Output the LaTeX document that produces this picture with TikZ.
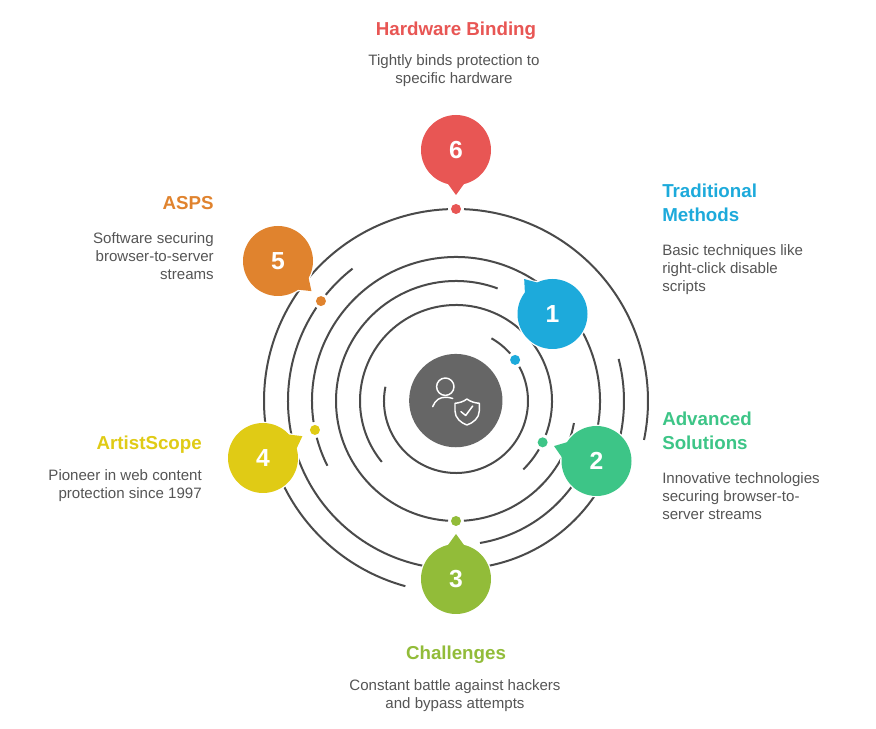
\documentclass[tikz,border=0pt]{standalone}
\usepackage{fontspec}
\setmainfont{Liberation Sans}
\definecolor{cA}{HTML}{1DAADB}
\definecolor{cB}{HTML}{3DC587}
\definecolor{cC}{HTML}{92BC39}
\definecolor{cD}{HTML}{E0CB15}
\definecolor{cE}{HTML}{E0832E}
\definecolor{cF}{HTML}{E85654}
\definecolor{ringc}{HTML}{4A4A4A}
\definecolor{hubc}{HTML}{666666}
\definecolor{bodyc}{HTML}{555555}
\tikzset{
  ringline/.style={draw=ringc,line width=1.5pt},
  bubblenum/.style={circle,minimum size=52.5pt,inner sep=0pt,text=white,font=\fontsize{18.5pt}{22pt}\selectfont\bfseries},
  dotmark/.style={circle,minimum size=7.5pt,inner sep=0pt},
  titletext/.style={inner sep=0pt,font=\fontsize{14.05pt}{18pt}\selectfont\bfseries},
  bodytext/.style={inner sep=0pt,text=bodyc,font=\fontsize{11.3pt}{13.5pt}\selectfont},
  iconline/.style={draw=white,line width=1.1pt,line cap=round,line join=round}
}
\newcommand\ringarc[3]{\draw[ringline] ([shift={(#2:#1)}]C) arc[start angle=#2,end angle=#3,radius=#1];}
\newcommand\bubble[6]{%
  \coordinate (p#1) at (#2,729-#3);
  \path[fill=white,draw=white,line width=2pt,line join=round] (p#1) circle[radius=35];
  \path[fill=white,draw=white,line width=2pt,line join=round]
    ([shift={(#5+14:35)}]p#1) .. controls ([shift={(#5+5:39)}]p#1) .. ([shift={(#5:45)}]p#1)
    .. controls ([shift={(#5-5:39)}]p#1) .. ([shift={(#5-14:35)}]p#1);
  \path[fill=#4] (p#1) circle[radius=35];
  \path[fill=#4] ([shift={(#5+14:34.5)}]p#1) .. controls ([shift={(#5+5:39)}]p#1) .. ([shift={(#5:45)}]p#1)
    .. controls ([shift={(#5-5:39)}]p#1) .. ([shift={(#5-14:34.5)}]p#1) -- (p#1) -- cycle;
  \node[bubblenum] (b#1) at (p#1) {#6};
}
\begin{document}
\begin{tikzpicture}[x=0.75pt,y=0.75pt]
\useasboundingbox (0,0) rectangle (876,729);
\fill[white] (0,0) rectangle (876,729);
\coordinate (C) at (456,729-401);
% rings
\ringarc{72}{168.6}{388.4}
\ringarc{72}{41.2}{60.5}
\ringarc{96}{-45.5}{-30.3}
\ringarc{96}{-20.7}{219.4}
\ringarc{120}{69.7}{266.2}
\ringarc{120}{273.8}{349.4}
\ringarc{144}{-80.4}{188.4}
\ringarc{144}{194.8}{206.7}
\ringarc{168}{128}{140.8}
\ringarc{168}{146.2}{374.5}
\ringarc{192}{-11.7}{87.6}
\ringarc{192}{92.4}{254.7}
% dots
\node[dotmark,fill=cA] (dot1) at ([shift={(34.8:72)}]C) {};
\node[dotmark,fill=cB] (dot2) at ([shift={(-25.5:96)}]C) {};
\node[dotmark,fill=cC] (dot3) at ([shift={(270:120)}]C) {};
\node[dotmark,fill=cD] (dot4) at ([shift={(191.6:144)}]C) {};
\node[dotmark,fill=cE] (dot5) at ([shift={(143.5:168)}]C) {};
\node[dotmark,fill=cF] (dot6) at ([shift={(90:192)}]C) {};
% bubbles
\bubble{1}{552.5}{314}{cA}{129}{1}
\bubble{2}{596.5}{461}{cB}{160.6}{2}
\bubble{3}{456}{579}{cC}{90}{3}
\bubble{4}{263}{458}{cD}{29}{4}
\bubble{5}{278}{261}{cE}{-42}{5}
\bubble{6}{456}{150}{cF}{-90}{6}
% hub
\node[circle,fill=hubc,minimum size=70pt,inner sep=0pt] (hub) at (455.8,729-400.6) {};
\begin{scope}[shift={(0,729)},yscale=-1]
  \draw[iconline] (445.3,386.7) circle[radius=8.7];
  \draw[iconline] (432.7,406.7) .. controls (435,400) and (440,397.3) .. (445,397.3) .. controls (448,397.3) and (451,397.6) .. (452.7,398.5);
  \draw[iconline] (466.9,399) .. controls (470,401.5) and (475,403) .. (479.3,403.3)
     -- (479.3,411) .. controls (479.3,418) and (473,423) .. (466.9,425)
     .. controls (461,423) and (455,418) .. (455,411) -- (455,403.3)
     .. controls (459,403) and (464,401.5) .. (466.9,399) -- cycle;
  \draw[iconline] (461,411.7) -- (465.7,415.5) -- (472.7,406);
\end{scope}
% texts
\node[titletext,text=cF,anchor=north,align=center] (tt6) at (456,729-18) {\strut Hardware Binding};
\node[bodytext,anchor=north,align=center] (dd6) at (454,729-53) {\strut Tightly binds protection to\\\strut specific hardware};
\node[titletext,text=cA,anchor=north west,align=left] (tt1) at (662,729-180) {\strut Traditional\\\strut Methods};
\node[bodytext,anchor=north west,align=left] (dd1) at (662,729-243) {\strut Basic techniques like\\\strut right-click disable\\\strut scripts};
\node[titletext,text=cB,anchor=north west,align=left] (tt2) at (662,729-408) {\strut Advanced\\\strut Solutions};
\node[bodytext,anchor=north west,align=left] (dd2) at (662,729-471) {\strut Innovative technologies\\\strut securing browser-to-\\\strut server streams};
\node[titletext,text=cC,anchor=north,align=center] (tt3) at (456,729-642) {\strut Challenges};
\node[bodytext,anchor=north,align=center] (dd3) at (455,729-678) {\strut Constant battle against hackers\\\strut and bypass attempts};
\node[titletext,text=cD,anchor=north east,align=right] (tt4) at (202,729-432) {\strut ArtistScope};
\node[bodytext,anchor=north east,align=right] (dd4) at (202,729-468) {\strut Pioneer in web content\\\strut protection since 1997};
\node[titletext,text=cE,anchor=north east,align=right] (tt5) at (214,729-192) {\strut ASPS};
\node[bodytext,anchor=north east,align=right] (dd5) at (214,729-231) {\strut Software securing\\\strut browser-to-server\\\strut streams};
\end{tikzpicture}
\end{document}
